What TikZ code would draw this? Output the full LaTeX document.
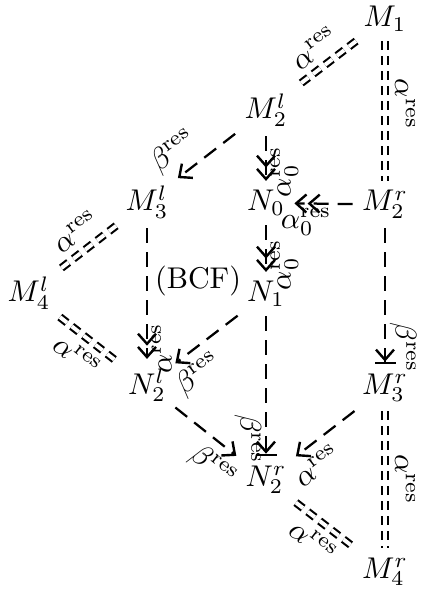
\documentclass[tikz,border=0pt]{standalone}
\usetikzlibrary{arrows.meta}
\begin{document}
\begin{tikzpicture}[x=0.3333pt,y=-0.3333pt,
  obj/.style={anchor=base, inner sep=3pt},
  lab/.style={font=\normalsize, inner sep=3pt},
  labn/.style={font=\normalsize, inner sep=1.2pt},
  dsh/.style={line width=0.75pt, dash pattern=on 5pt off 3pt},
  eqline/.style={double, double distance=1.3pt, line width=0.7pt, dash pattern=on 3pt off 2pt},
  hd/.style={-{Straight Barb[length=3.4pt,width=6pt,line width=0.8pt]}},
  hdd/.style={-{Straight Barb[length=3.4pt,width=6pt,line width=0.8pt]Straight Barb[length=3.4pt,width=6pt,line width=0.8pt]}},
  hdbar/.style={-{Straight Barb[length=3.4pt,width=6pt,line width=0.8pt]Bar[width=7pt,line width=0.75pt]}}
]
\useasboundingbox (0,0) rectangle (424,591);
% objects
\node[obj] (M1)  at (385,27)  {$M_1$};
\node[obj] (M2l) at (266,119) {$M^l_2$};
\node[obj] (M3l) at (147,211) {$M^l_3$};
\node[obj] (N0)  at (266,211) {$N_0$};
\node[obj] (M2r) at (385,211) {$M^r_2$};
\node[obj] (M4l) at (29,302)  {$M^l_4$};
\node[obj] (N1)  at (266,302) {$N_1$};
\node[obj] (N2l) at (147,394) {$N^l_2$};
\node[obj] (M3r) at (385,394) {$M^r_3$};
\node[obj] (N2r) at (266,486) {$N^r_2$};
\node[obj] (M4r) at (385,578) {$M^r_4$};
\node[anchor=base, inner sep=0pt] (BCF) at (198,289) {(BCF)};
% connectors
\draw[eqline] (M1) -- node[lab,sloped,above] {$\alpha^{\mathrm{res}}$} (M2l);
\draw[eqline] (M1) -- node[lab,rotate=-90,anchor=south,pos=0.45] {$\alpha^{\mathrm{res}}$} (M2r);
\draw[dsh,hd] (M2l) -- node[lab,sloped,above,pos=0.82] {$\beta^{\mathrm{res}}$} (M3l);
\draw[dsh,hdd] (M2l) -- node[labn,rotate=90,anchor=north,pos=0.8] {$\alpha_0^{\mathrm{res}}$} (N0);
\draw[dsh,hdd] (M2r) -- node[labn,below,pos=0.8] {$\alpha_0^{\mathrm{res}}$} (N0);
\draw[dsh,hdd] (N0) -- node[labn,rotate=90,anchor=north,pos=0.85] {$\alpha_0^{\mathrm{res}}$} (N1);
\draw[eqline] (M3l) -- node[lab,sloped,above] {$\alpha^{\mathrm{res}}$} (M4l);
\draw[eqline] (M4l) -- node[lab,sloped,below] {$\alpha^{\mathrm{res}}$} (N2l);
\draw[dsh,hdd] (M3l) -- node[labn,rotate=90,anchor=north,pos=0.92] {$\alpha^{\mathrm{res}}$} (N2l);
\draw[dsh,hd] (N1) -- node[lab,sloped,below,pos=0.85] {$\beta^{\mathrm{res}}$} (N2l);
\draw[dsh,hdbar] (M2r) -- node[labn,rotate=-90,anchor=south,pos=0.88] {$\beta^{\mathrm{res}}$} (M3r);
\draw[dsh,hdbar] (N1) -- node[labn,rotate=-90,anchor=north,pos=0.88] {$\beta^{\mathrm{res}}$} (N2r);
\draw[dsh,hd] (N2l) -- node[lab,sloped,below,pos=0.85] {$\beta^{\mathrm{res}}$} (N2r);
\draw[dsh,hd] (M3r) -- node[lab,sloped,below,pos=0.85] {$\alpha^{\mathrm{res}}$} (N2r);
\draw[eqline] (N2r) -- node[lab,sloped,below] {$\alpha^{\mathrm{res}}$} (M4r);
\draw[eqline] (M3r) -- node[lab,rotate=-90,anchor=south] {$\alpha^{\mathrm{res}}$} (M4r);
\end{tikzpicture}
\end{document}
